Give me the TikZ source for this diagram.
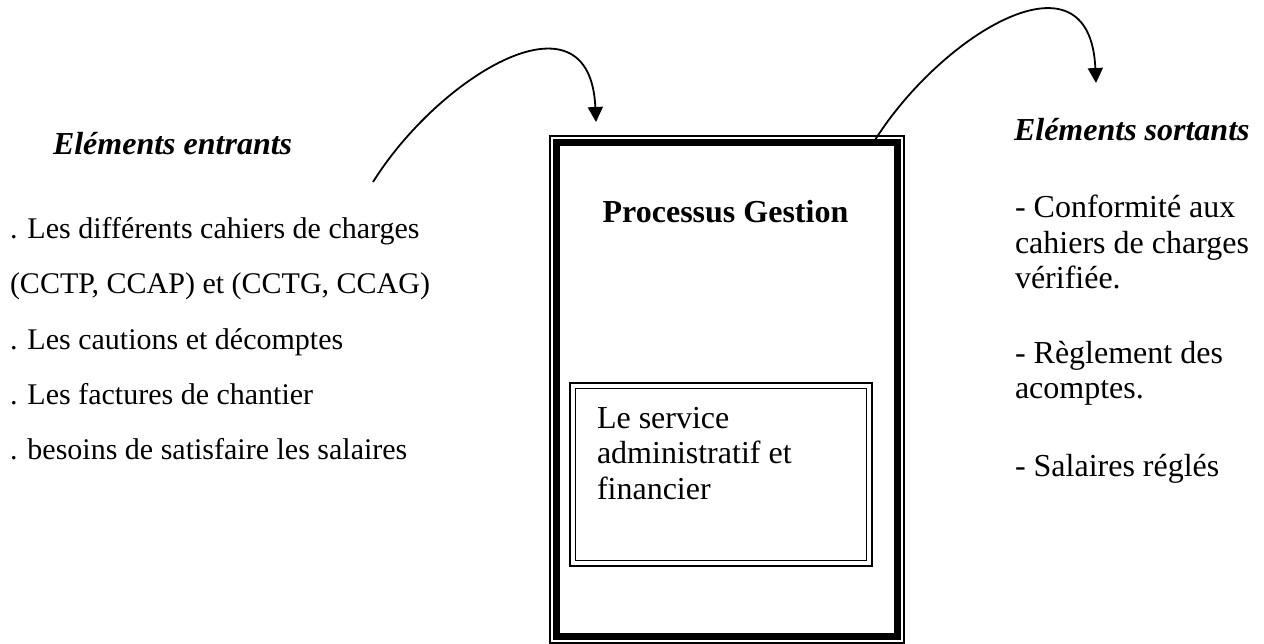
\documentclass[tikz,border=0pt]{standalone}
\usepackage{fontspec}
\setmainfont{Liberation Serif}
\usetikzlibrary{arrows.meta}

\tikzset{
  txt/.style={inner sep=0pt, outer sep=0pt, anchor=base west},
  lefttxt/.style={txt, font=\fontsize{30}{36}\selectfont},
  righttxt/.style={txt, font=\fontsize{32}{36}\selectfont},
  heading/.style={txt, font=\fontsize{32}{36}\selectfont\bfseries\itshape},
  flow/.style={line width=1.8pt, -{Triangle[length=15pt,width=15pt]}},
}

\begin{document}
\begin{tikzpicture}[x=1pt,y=-1pt]
\useasboundingbox (0,0) rectangle (1264,644);

% outer frame: thin line outside, thick band inside
\node[draw, line width=1.2pt, minimum width=354pt, minimum height=507pt,
      inner sep=0pt, outer sep=0pt] (proc) at (727,389.5) {};
\draw[line width=7pt] ([xshift=6.5pt,yshift=-6.5pt]proc.north west)
      rectangle ([xshift=-6.5pt,yshift=6.5pt]proc.south east);
\node[txt, anchor=base, font=\fontsize{32}{36}\selectfont\bfseries]
      (title) at (725.5,223) {Processus Gestion};

% inner frame: thicker line outside, thin line inside
\node[draw, line width=2pt, minimum width=302pt, minimum height=183pt,
      inner sep=0pt, outer sep=0pt] (svc) at (721,474.5) {};
\draw[line width=1.3pt] ([xshift=5.5pt,yshift=-5.5pt]svc.north west)
      rectangle ([xshift=-5.5pt,yshift=5.5pt]svc.south east);
\node[righttxt] (s1) at (597,428) {Le service};
\node[righttxt] (s2) at (597,463.5) {administratif et};
\node[righttxt] (s3) at (597,499) {financier};

% inputs
\node[heading] (inhead) at (53,155) {Eléments entrants};
\node[lefttxt] (i1) at (10,239) {. Les différents cahiers de charges};
\node[lefttxt] (i2) at (10,294) {(CCTP, CCAP) et (CCTG, CCAG)};
\node[lefttxt] (i3) at (10,349) {. Les cautions et décomptes};
\node[lefttxt] (i4) at (10,404) {. Les factures de chantier};
\node[lefttxt] (i5) at (10,459) {. besoins de satisfaire les salaires};

% outputs
\node[heading] (outhead) at (1014,141) {Eléments sortants};
\node[righttxt] (o1) at (1015,218) {- Conformité aux};
\node[righttxt] (o2) at (1015,253.5) {cahiers de charges};
\node[righttxt] (o3) at (1015,289) {vérifiée.};
\node[righttxt] (o4) at (1015,363) {- Règlement des};
\node[righttxt] (o5) at (1015,399) {acomptes.};
\node[righttxt] (o6) at (1015,476) {- Salaires réglés};

% flow arrows
\coordinate (inStart) at (373,182);
\coordinate (inEnd) at (596,122);
\coordinate (outStart) at (875,140);
\coordinate (outEnd) at (1096,83);
\draw[flow] (inStart) .. controls (440,75) and (590,-15) .. (inEnd);
\draw[flow] (outStart) .. controls (942,34) and (1090,-56) .. (outEnd);
\end{tikzpicture}
\end{document}
